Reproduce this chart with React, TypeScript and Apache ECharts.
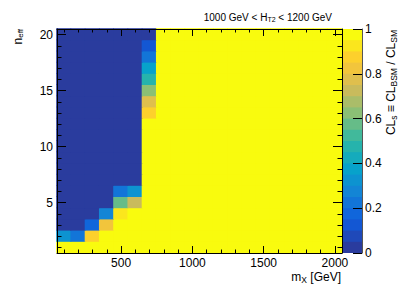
import React, { useEffect, useRef } from 'react';
import * as echarts from 'echarts';

// ---------- data ----------
const massBins = [100, 200, 300, 400, 500, 600, 700, 800, 900, 1000, 1100, 1200, 1300, 1400, 1500, 1600, 1700, 1800, 1900, 2000];
const nEffBins = [1, 2, 3, 4, 5, 6, 7, 8, 9, 10, 11, 12, 13, 14, 15, 16, 17, 18, 19, 20];

// CLs values, one row per n_eff (1..20), one entry per mass bin (100..2000 GeV)
const clsNEff1 = [1, 1, 1, 1, 1, 1, 1, 1, 1, 1, 1, 1, 1, 1, 1, 1, 1, 1, 1, 1];
const clsNEff2 = [0.32, 0.22, 0.87, 1, 1, 1, 1, 1, 1, 1, 1, 1, 1, 1, 1, 1, 1, 1, 1, 1];
const clsNEff3 = [0, 0, 0.16, 0.82, 1, 1, 1, 1, 1, 1, 1, 1, 1, 1, 1, 1, 1, 1, 1, 1];
const clsNEff4 = [0, 0, 0, 0.27, 0.92, 1, 1, 1, 1, 1, 1, 1, 1, 1, 1, 1, 1, 1, 1, 1];
const clsNEff5 = [0, 0, 0, 0, 0.57, 0.71, 1, 1, 1, 1, 1, 1, 1, 1, 1, 1, 1, 1, 1, 1];
const clsNEff6 = [0, 0, 0, 0, 0.21, 0.31, 1, 1, 1, 1, 1, 1, 1, 1, 1, 1, 1, 1, 1, 1];
const clsNEff7 = [0, 0, 0, 0, 0, 0, 1, 1, 1, 1, 1, 1, 1, 1, 1, 1, 1, 1, 1, 1];
const clsNEff8 = [0, 0, 0, 0, 0, 0, 1, 1, 1, 1, 1, 1, 1, 1, 1, 1, 1, 1, 1, 1];
const clsNEff9 = [0, 0, 0, 0, 0, 0, 1, 1, 1, 1, 1, 1, 1, 1, 1, 1, 1, 1, 1, 1];
const clsNEff10 = [0, 0, 0, 0, 0, 0, 1, 1, 1, 1, 1, 1, 1, 1, 1, 1, 1, 1, 1, 1];
const clsNEff11 = [0, 0, 0, 0, 0, 0, 1, 1, 1, 1, 1, 1, 1, 1, 1, 1, 1, 1, 1, 1];
const clsNEff12 = [0, 0, 0, 0, 0, 0, 1, 1, 1, 1, 1, 1, 1, 1, 1, 1, 1, 1, 1, 1];
const clsNEff13 = [0, 0, 0, 0, 0, 0, 0.87, 1, 1, 1, 1, 1, 1, 1, 1, 1, 1, 1, 1, 1];
const clsNEff14 = [0, 0, 0, 0, 0, 0, 0.77, 1, 1, 1, 1, 1, 1, 1, 1, 1, 1, 1, 1, 1];
const clsNEff15 = [0, 0, 0, 0, 0, 0, 0.62, 1, 1, 1, 1, 1, 1, 1, 1, 1, 1, 1, 1, 1];
const clsNEff16 = [0, 0, 0, 0, 0, 0, 0.47, 1, 1, 1, 1, 1, 1, 1, 1, 1, 1, 1, 1, 1];
const clsNEff17 = [0, 0, 0, 0, 0, 0, 0.37, 1, 1, 1, 1, 1, 1, 1, 1, 1, 1, 1, 1, 1];
const clsNEff18 = [0, 0, 0, 0, 0, 0, 0.22, 1, 1, 1, 1, 1, 1, 1, 1, 1, 1, 1, 1, 1];
const clsNEff19 = [0, 0, 0, 0, 0, 0, 0.12, 1, 1, 1, 1, 1, 1, 1, 1, 1, 1, 1, 1, 1];
const clsNEff20 = [0, 0, 0, 0, 0, 0, 0.02, 1, 1, 1, 1, 1, 1, 1, 1, 1, 1, 1, 1, 1];

const clsRows = [
  clsNEff1, clsNEff2, clsNEff3, clsNEff4, clsNEff5, clsNEff6, clsNEff7, clsNEff8, clsNEff9, clsNEff10,
  clsNEff11, clsNEff12, clsNEff13, clsNEff14, clsNEff15, clsNEff16, clsNEff17, clsNEff18, clsNEff19, clsNEff20,
];

const xMajorTicks = [500, 1000, 1500, 2000];
const yMajorTicks = [5, 10, 15, 20];
const zMajorTicks = [0, 0.2, 0.4, 0.6, 0.8, 1];

const massBinWidth = 100;
const nEffBinWidth = 1;
const nContours = 20;

// parula-like palette stops
const paletteStops = ['#2a3c9e', '#0f5cdd', '#1481d6', '#06a4ca', '#2eb7a4', '#87bf77', '#d1bb59', '#fec832', '#f9fb0e'];

function hexToRgb(h: string) {
  const n = parseInt(h.slice(1), 16);
  return [(n >> 16) & 255, (n >> 8) & 255, n & 255];
}
const stopRgb = paletteStops.map(hexToRgb);

function paletteColor(t: number) {
  const n = stopRgb.length;
  const s = Math.max(0, Math.min(1, t)) * (n - 1);
  const i = Math.min(n - 2, Math.floor(s));
  const f = s - i;
  const a = stopRgb[i];
  const b = stopRgb[i + 1];
  const c = [0, 1, 2].map((k) => Math.round(a[k] + (b[k] - a[k]) * f));
  return `rgb(${c[0]},${c[1]},${c[2]})`;
}

function bandIndex(v: number) {
  return Math.max(0, Math.min(nContours - 1, Math.floor(v * nContours + 1e-9)));
}

function bandColor(v: number) {
  return paletteColor(bandIndex(v) / (nContours - 1));
}

const fontFamily = '"Liberation Sans", Arial, Helvetica, sans-serif';

export default function App() {
  const ref = useRef<HTMLDivElement>(null);

  useEffect(() => {
    if (!ref.current) return;
    const chart = echarts.init(ref.current, undefined, { renderer: 'svg' });

    const cellData: number[][] = [];
    clsRows.forEach((row, r) => {
      row.forEach((v, c) => {
        cellData.push([massBins[c], nEffBins[r], v]);
      });
    });

    const zStep = 1 / nContours;
    const zLevels = Array.from({ length: nContours }, (_, i) => [0.5, i * zStep, i]);

    const tickStyle = { color: '#000', width: 1 };
    const lineStyle = { color: '#000', width: 1 };
    const labelStyle = { color: '#000', fontSize: 12, fontFamily };
    const plainFormatter = (v: number) => String(v);

    const xAxisBase = {
      gridIndex: 0,
      type: 'value',
      min: 50,
      max: 2050,
      z: 10,
      splitLine: { show: false },
    };
    const yAxisBase = {
      gridIndex: 0,
      type: 'value',
      min: 0.5,
      max: 20.5,
      z: 10,
      splitLine: { show: false },
    };

    const overlap = 0.8;

    const option: any = {
      animation: false,
      backgroundColor: '#fff',
      grid: [
        { left: 57, top: 29, width: 285, height: 224 },
        { left: 343, top: 29, width: 19, height: 224 },
      ],
      xAxis: [
        {
          ...xAxisBase,
          position: 'bottom',
          axisLine: { show: true, onZero: false, lineStyle },
          axisTick: { show: true, inside: true, length: 7, customValues: xMajorTicks, lineStyle: tickStyle },
          axisLabel: { show: true, customValues: xMajorTicks, margin: 4, formatter: plainFormatter, ...labelStyle },
        },
        {
          ...xAxisBase,
          position: 'bottom',
          axisLine: { show: false, onZero: false },
          axisTick: { show: true, inside: true, length: 3.5, customValues: massBins, lineStyle: tickStyle },
          axisLabel: { show: false },
        },
        {
          ...xAxisBase,
          position: 'top',
          axisLine: { show: true, onZero: false, lineStyle },
          axisTick: { show: true, inside: true, length: 7, customValues: xMajorTicks, lineStyle: tickStyle },
          axisLabel: { show: false },
        },
        {
          ...xAxisBase,
          position: 'top',
          axisLine: { show: false, onZero: false },
          axisTick: { show: true, inside: true, length: 3.5, customValues: massBins, lineStyle: tickStyle },
          axisLabel: { show: false },
        },
        {
          gridIndex: 1,
          type: 'value',
          min: 0,
          max: 1,
          show: false,
        },
      ],
      yAxis: [
        {
          ...yAxisBase,
          position: 'left',
          axisLine: { show: true, onZero: false, lineStyle },
          axisTick: { show: true, inside: true, length: 9, customValues: yMajorTicks, lineStyle: tickStyle },
          axisLabel: { show: true, customValues: yMajorTicks, margin: 4, formatter: plainFormatter, ...labelStyle },
        },
        {
          ...yAxisBase,
          position: 'left',
          axisLine: { show: false, onZero: false },
          axisTick: { show: true, inside: true, length: 4.5, customValues: nEffBins, lineStyle: tickStyle },
          axisLabel: { show: false },
        },
        {
          ...yAxisBase,
          position: 'right',
          axisLine: { show: true, onZero: false, lineStyle },
          axisTick: { show: true, inside: true, length: 9, customValues: yMajorTicks, lineStyle: tickStyle },
          axisLabel: { show: false },
        },
        {
          ...yAxisBase,
          position: 'right',
          axisLine: { show: false, onZero: false },
          axisTick: { show: true, inside: true, length: 4.5, customValues: nEffBins, lineStyle: tickStyle },
          axisLabel: { show: false },
        },
        {
          gridIndex: 1,
          type: 'value',
          min: 0,
          max: 1,
          position: 'right',
          z: 10,
          splitLine: { show: false },
          axisLine: { show: true, onZero: false, lineStyle: { color: '#555', width: 1 } },
          axisTick: { show: true, inside: true, length: 9, customValues: zMajorTicks, lineStyle: tickStyle },
          axisLabel: { show: true, margin: 3, customValues: zMajorTicks, formatter: plainFormatter, ...labelStyle },
        },
      ],
      series: [
        {
          type: 'custom',
          xAxisIndex: 0,
          yAxisIndex: 0,
          data: cellData,
          encode: { x: 0, y: 1 },
          renderItem: (_params: any, api: any) => {
            const x = api.value(0);
            const y = api.value(1);
            const v = api.value(2);
            const c = api.coord([x, y]);
            const s = api.size([massBinWidth, nEffBinWidth]);
            const fill = bandColor(v);
            return {
              type: 'rect',
              shape: {
                x: c[0] - s[0] / 2 - overlap,
                y: c[1] - s[1] / 2 - overlap,
                width: s[0] + overlap,
                height: s[1] + overlap,
              },
              style: { fill },
            };
          },
        },
        {
          type: 'custom',
          xAxisIndex: 4,
          yAxisIndex: 4,
          data: zLevels,
          encode: { x: 0, y: 1 },
          renderItem: (_params: any, api: any) => {
            const lo = api.value(1);
            const idx = api.value(2);
            const p0 = api.coord([0, lo + zStep]);
            const p1 = api.coord([1, lo]);
            return {
              type: 'rect',
              shape: { x: p0[0], y: p0[1] - (idx === nContours - 1 ? 0 : overlap), width: p1[0] - p0[0], height: p1[1] - p0[1] + (idx === nContours - 1 ? 0 : overlap) },
              style: { fill: paletteColor(idx / (nContours - 1)) },
            };
          },
        },
      ],
      graphic: [
        {
          type: 'text',
          x: 332,
          y: 17,
          z: 20,
          style: {
            text: '{m|1000 GeV < H}{s|T2}{m| < 1200 GeV}',
            align: 'right',
            verticalAlign: 'middle',
            fill: '#000',
            rich: {
              m: { fontSize: 10, lineHeight: 12, fontFamily, fill: '#000', verticalAlign: 'middle' },
              s: { fontSize: 7, lineHeight: 7, padding: [6, 0, 0, 0], fontFamily, fill: '#000', verticalAlign: 'bottom' },
            },
          },
        },
        {
          type: 'text',
          x: 341,
          y: 277,
          z: 20,
          style: {
            text: '{m|m}{s|X}{m| [GeV]}',
            align: 'right',
            verticalAlign: 'middle',
            fill: '#000',
            rich: {
              m: { fontSize: 12, lineHeight: 14, fontFamily, fill: '#000', verticalAlign: 'middle' },
              s: { fontSize: 8.5, lineHeight: 8, padding: [7, 0, 0, 0], fontFamily, fill: '#000', verticalAlign: 'bottom' },
            },
          },
        },
        {
          type: 'text',
          x: 17.5,
          y: 29,
          rotation: Math.PI / 2,
          z: 20,
          style: {
            text: '{m|n}{s|eff}',
            align: 'right',
            verticalAlign: 'middle',
            fill: '#000',
            rich: {
              m: { fontSize: 12, lineHeight: 14, fontFamily, fill: '#000', verticalAlign: 'middle' },
              s: { fontSize: 8, lineHeight: 8, padding: [7, 0, 0, 0], fontFamily, fill: '#000', verticalAlign: 'bottom' },
            },
          },
        },
        {
          type: 'text',
          x: 391,
          y: 30,
          rotation: Math.PI / 2,
          z: 20,
          style: {
            text: '{m|CL}{s|s}{m| ≡ CL}{s|BSM}{m| / CL}{s|SM}',
            align: 'right',
            verticalAlign: 'middle',
            fill: '#000',
            rich: {
              m: { fontSize: 12, lineHeight: 14, fontFamily, fill: '#000', verticalAlign: 'middle' },
              s: { fontSize: 8.5, lineHeight: 8, padding: [7, 0, 0, 0], fontFamily, fill: '#000', verticalAlign: 'bottom' },
            },
          },
        },
      ],
    };

    chart.setOption(option);
    return () => {
      chart.dispose();
    };
  }, []);

  return (
    <div
      ref={ref}
      style={{ position: 'fixed', left: 0, top: 0, width: 407, height: 294, background: '#fff' }}
    />
  );
}
